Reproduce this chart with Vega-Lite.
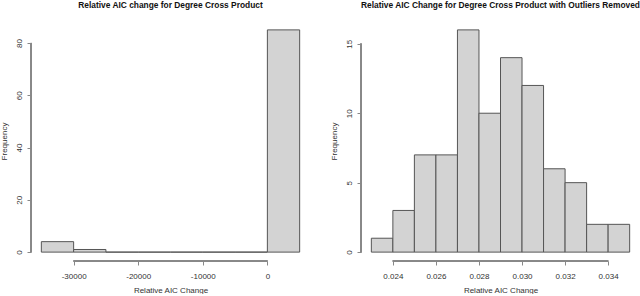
{
  "$schema": "https://vega.github.io/schema/vega-lite/v6.json",
  "padding": {"left": 0, "top": 0, "right": 0, "bottom": 0},
  "spacing": 20,
  "config": {
    "view": {"stroke": null},
    "font": "Liberation Sans",
    "locale": {"number": {"decimal": ".", "thousands": ",", "grouping": [3], "currency": ["$", ""], "minus": "-"}},
    "axis": {
      "grid": false,
      "domain": false,
      "tickColor": "#888888",
      "tickSize": 4,
      "labelFontSize": 8,
      "labelColor": "#333333",
      "labelPadding": 4,
      "titleFontSize": 8,
      "titleFontWeight": "normal",
      "titleColor": "#333333",
      "titlePadding": 7
    },
    "axisX": {"labelPadding": 7, "titlePadding": 6},
    "axisY": {"labelAngle": -90},
    "title": {"fontSize": 8.4, "fontWeight": "bold", "color": "#111111", "anchor": "middle", "offset": 12}
  },
  "hconcat": [
    {
      "width": 279,
      "height": 240,
      "title": {"text": "Relative AIC change for Degree Cross Product"},
      "data": {"values": [
        {"bin_start": -35000, "bin_end": -30000, "count": 4},
        {"bin_start": -30000, "bin_end": -25000, "count": 1},
        {"bin_start": -25000, "bin_end": -20000, "count": 0},
        {"bin_start": -20000, "bin_end": -15000, "count": 0},
        {"bin_start": -15000, "bin_end": -10000, "count": 0},
        {"bin_start": -10000, "bin_end": -5000, "count": 0},
        {"bin_start": -5000, "bin_end": 0, "count": 0},
        {"bin_start": 0, "bin_end": 5000, "count": 85}
      ]},
      "layer": [
        {
          "mark": {"type": "rect", "fill": "#d3d3d3", "stroke": "#555555", "strokeWidth": 1},
          "encoding": {
            "x": {"field": "bin_start", "type": "quantitative",
                  "scale": {"domain": [-36600, 6600], "nice": false, "zero": false},
                  "axis": {"values": [-30000, -20000, -10000, 0], "format": "d", "title": "Relative AIC Change"}},
            "x2": {"field": "bin_end"},
            "y": {"field": "count", "type": "quantitative",
                  "scale": {"domain": [-3.4, 88.4], "nice": false, "zero": false},
                  "axis": {"values": [0, 20, 40, 60, 80], "title": "Frequency"}},
            "y2": {"datum": 0}
          }
        },
        {
          "mark": {"type": "rule", "color": "#888888", "strokeWidth": 1},
          "encoding": {"x": {"datum": -36600}, "y": {"datum": 0}, "y2": {"datum": 80}}
        },
        {
          "mark": {"type": "rule", "color": "#888888", "strokeWidth": 1},
          "encoding": {"y": {"datum": -3.4}, "x": {"datum": -30000}, "x2": {"datum": 0}}
        }
      ]
    },
    {
      "width": 279,
      "height": 240,
      "title": {"text": "Relative AIC Change for Degree Cross Product with Outliers Removed"},
      "data": {"values": [
        {"bin_start": 0.023, "bin_end": 0.024, "count": 1},
        {"bin_start": 0.024, "bin_end": 0.025, "count": 3},
        {"bin_start": 0.025, "bin_end": 0.026, "count": 7},
        {"bin_start": 0.026, "bin_end": 0.027, "count": 7},
        {"bin_start": 0.027, "bin_end": 0.028, "count": 16},
        {"bin_start": 0.028, "bin_end": 0.029, "count": 10},
        {"bin_start": 0.029, "bin_end": 0.030, "count": 14},
        {"bin_start": 0.030, "bin_end": 0.031, "count": 12},
        {"bin_start": 0.031, "bin_end": 0.032, "count": 6},
        {"bin_start": 0.032, "bin_end": 0.033, "count": 5},
        {"bin_start": 0.033, "bin_end": 0.034, "count": 2},
        {"bin_start": 0.034, "bin_end": 0.035, "count": 2}
      ]},
      "layer": [
        {
          "mark": {"type": "rect", "fill": "#d3d3d3", "stroke": "#555555", "strokeWidth": 1},
          "encoding": {
            "x": {"field": "bin_start", "type": "quantitative",
                  "scale": {"domain": [0.02252, 0.03548], "nice": false, "zero": false},
                  "axis": {"values": [0.024, 0.026, 0.028, 0.030, 0.032, 0.034], "format": ".3f", "title": "Relative AIC Change"}},
            "x2": {"field": "bin_end"},
            "y": {"field": "count", "type": "quantitative",
                  "scale": {"domain": [-0.64, 16.64], "nice": false, "zero": false},
                  "axis": {"values": [0, 5, 10, 15], "title": "Frequency"}},
            "y2": {"datum": 0}
          }
        },
        {
          "mark": {"type": "rule", "color": "#888888", "strokeWidth": 1},
          "encoding": {"x": {"datum": 0.02252}, "y": {"datum": 0}, "y2": {"datum": 15}}
        },
        {
          "mark": {"type": "rule", "color": "#888888", "strokeWidth": 1},
          "encoding": {"y": {"datum": -0.64}, "x": {"datum": 0.024}, "x2": {"datum": 0.034}}
        }
      ]
    }
  ]
}
